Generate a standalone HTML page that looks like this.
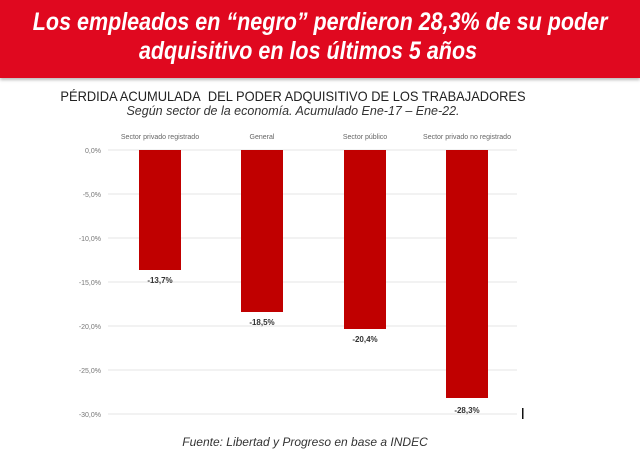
<!DOCTYPE html>
<html><head><meta charset="utf-8"><style>
body{margin:0;width:640px;height:462px;background:#fff;overflow:hidden;font-family:"Liberation Sans",sans-serif;position:relative}
.ban{position:absolute;left:0;top:0;width:640px;height:78px;background:#e0081f;box-shadow:0 2px 3px #bbb;overflow:hidden}
.ban div{color:#fff;font-weight:bold;font-style:italic;font-size:25px;text-align:center;line-height:29px;white-space:nowrap;transform:translateX(-12px) scaleX(0.86);transform-origin:320px 0}
.t{position:absolute;left:-27px;width:640px;text-align:center;color:#222;white-space:nowrap}
</style></head><body>
<div class="ban"><div style="padding-top:8px">Los empleados en “negro” perdieron 28,3% de su poder<br>adquisitivo en los últimos 5 años</div></div>
<div class="t" style="top:88px;font-size:14px;transform:scaleX(0.92)">PÉRDIDA ACUMULADA&nbsp; DEL PODER ADQUISITIVO DE LOS TRABAJADORES</div>
<div class="t" style="top:104px;font-size:12.5px;font-style:italic;color:#333">Según sector de la economía. Acumulado Ene-17 – Ene-22.</div>
<svg width="640" height="462" style="position:absolute;left:0;top:0" font-family="Liberation Sans,sans-serif">
<g stroke="#e4e4e4" stroke-width="1">
<line x1="108" x2="517" y1="150" y2="150"/><line x1="108" x2="517" y1="194" y2="194"/><line x1="108" x2="517" y1="238" y2="238"/><line x1="108" x2="517" y1="282" y2="282"/><line x1="108" x2="517" y1="326" y2="326"/><line x1="108" x2="517" y1="370" y2="370"/><line x1="108" x2="517" y1="414" y2="414"/>
</g>
<g font-size="7" fill="#777" text-anchor="end">
<text x="101" y="153">0,0%</text><text x="101" y="197">-5,0%</text><text x="101" y="241">-10,0%</text><text x="101" y="285">-15,0%</text><text x="101" y="329">-20,0%</text><text x="101" y="373">-25,0%</text><text x="101" y="417">-30,0%</text>
</g>
<g font-size="7" fill="#666" text-anchor="middle">
<text x="160" y="139">Sector privado registrado</text><text x="262" y="139">General</text><text x="365" y="139">Sector público</text><text x="467" y="139">Sector privado no registrado</text>
</g>
<g fill="#c00000">
<rect x="139" y="150" width="42" height="120"/><rect x="241" y="150" width="42" height="162"/><rect x="344" y="150" width="42" height="179"/><rect x="446" y="150" width="42" height="248"/>
</g>
<g font-size="8" fill="#333" font-weight="bold" text-anchor="middle">
<text x="160" y="283">-13,7%</text><text x="262" y="325">-18,5%</text><text x="365" y="342">-20,4%</text><text x="467" y="413">-28,3%</text>
</g>
<rect x="522" y="408" width="1.5" height="11" fill="#111"/>
<text x="305" y="446" text-anchor="middle" font-size="12" font-style="italic" fill="#333">Fuente: Libertad y Progreso en base a INDEC</text>
</svg>
</body></html>
